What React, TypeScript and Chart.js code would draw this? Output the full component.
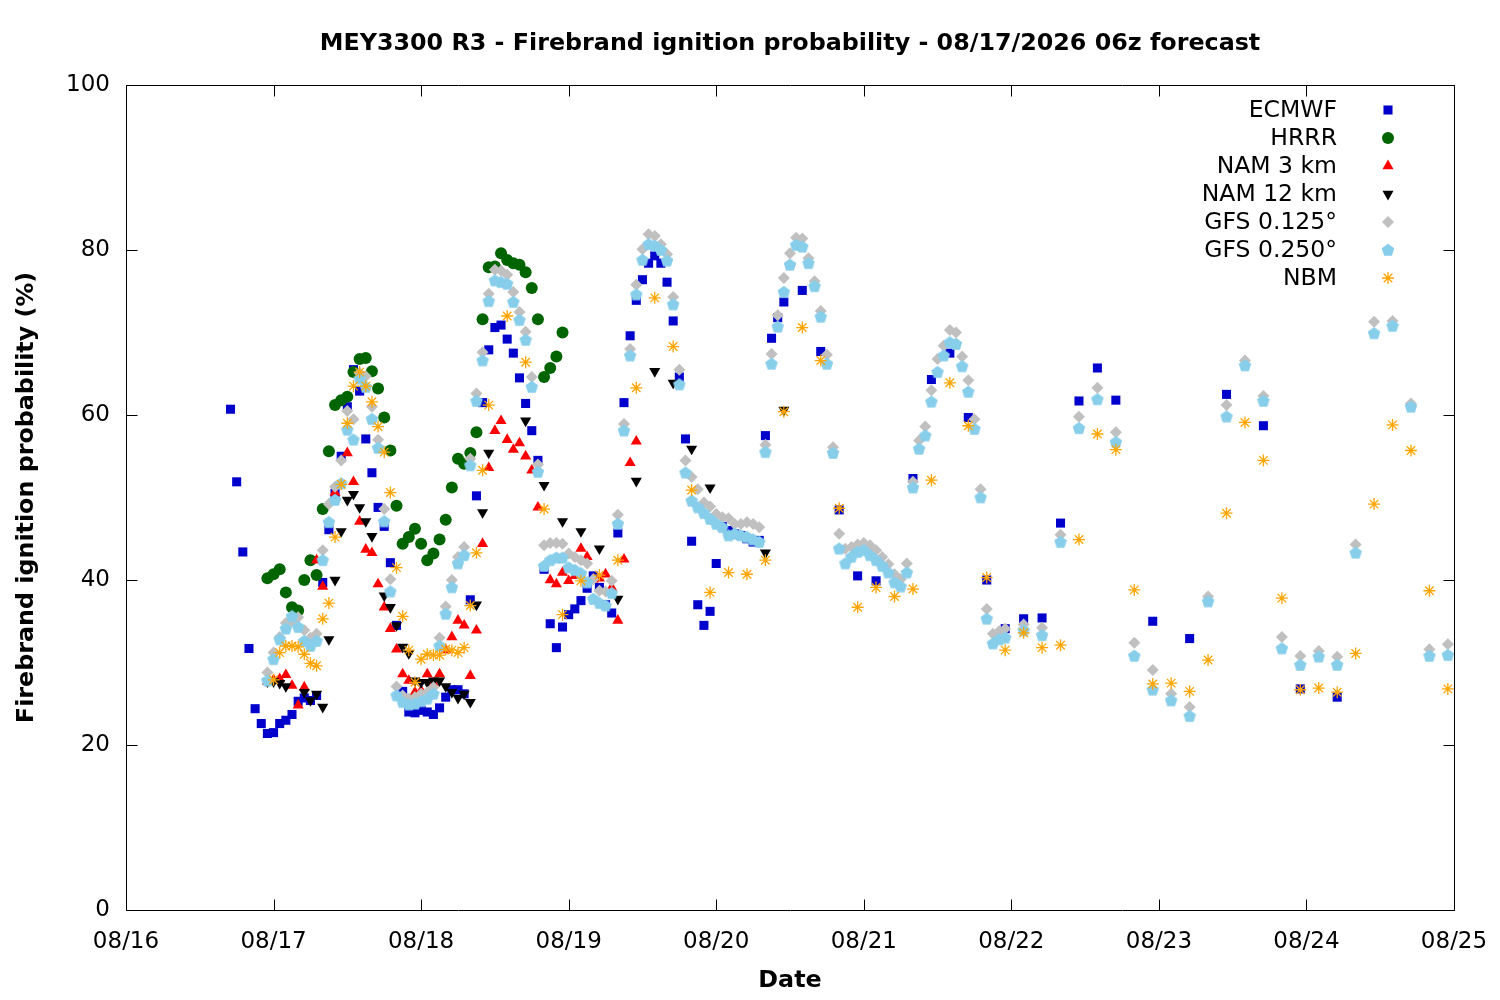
import React, { useEffect, useRef } from 'react';
import { Chart, registerables } from 'chart.js';

Chart.register(...registerables);

const titleText = 'MEY3300 R3 - Firebrand ignition probability - 08/17/2026 06z forecast';
const xTitle = 'Date';
const yTitle = 'Firebrand ignition probability (%)';
const dayLabels = ['08/16', '08/17', '08/18', '08/19', '08/20', '08/21', '08/22', '08/23', '08/24', '08/25'];
const seriesNames = ['ECMWF', 'HRRR', 'NAM 3 km', 'NAM 12 km', 'GFS 0.125°', 'GFS 0.250°', 'NBM'];

// hours since 08/16 00
const ecmwfHours = [17, 18, 19, 20, 21, 22, 23, 24, 25, 26, 27, 28, 29, 30, 31, 32, 33, 34, 35, 36, 37, 38, 39, 40, 41, 42, 43, 44, 45, 46, 47, 48, 49, 50, 51, 52, 53, 54, 55, 56, 57, 58, 59, 60, 61, 62, 63, 64, 65, 66, 67, 68, 69, 70, 71, 72, 73, 74, 75, 76, 77, 78, 79, 80, 81, 82, 83, 84, 85, 86, 87, 88, 89, 90, 91, 92, 93, 94, 95, 96, 97, 98, 99, 100, 101, 102, 103, 104, 105, 106, 107,
  110, 113, 116, 119, 122, 128, 131, 134, 137, 140, 143, 146, 149, 152, 155, 158, 161, 167, 173, 179, 185, 191, 197];
const ecmwfValues = [60.7, 51.9, 43.4, 31.7, 24.4, 22.6, 21.4, 21.5, 22.6, 23.0,
  23.7, 25.3, 25.7, 25.4, 26.0, 39.7, 46.1, 50.5, 55.0, 61.0,
  65.5, 62.9, 57.1, 53.0, 48.8, 46.5, 42.1, 34.5, 26.5, 24.0,
  23.9, 24.2, 24.0, 23.7, 24.5, 25.8, 26.7, 26.7, 26.2, 37.6,
  50.2, 61.5, 67.9, 70.6, 70.9, 69.2, 67.5, 64.5, 61.4, 58.1,
  54.5, 41.3, 34.7, 31.8, 34.3, 35.8, 36.5, 37.5, 39.0, 40.5,
  39.1, 37.0, 36.0, 45.7, 61.5, 69.6, 73.9, 76.4, 78.4, 79.3,
  78.4, 76.1, 71.4, 64.6, 57.1, 44.7, 37.0, 34.5, 36.2, 42.0,
  46.5, 46.0, 45.6, 45.4, 45.0, 44.6, 44.8, 57.5, 69.3, 71.8,
  73.7,
  75.1, 67.7, 48.5, 40.5, 39.9, 52.3, 64.3, 67.5, 59.7, 40.0, 34.1, 35.3, 35.4, 46.9, 61.7, 65.7, 61.8, 35.0, 32.9, 62.5, 58.7, 26.8, 25.8];

const hrrrHours = [23, 24, 25, 26, 27, 28, 29, 30, 31, 32, 33, 34, 35, 36, 37, 38, 39, 40, 41, 42, 43, 44, 45, 46, 47, 48, 49, 50, 51, 52, 53, 54, 55, 56, 57, 58, 59, 60, 61, 62, 63, 64, 65, 66, 67, 68, 69, 70, 71];
const hrrrValues = [40.2, 40.7, 41.3, 38.5, 36.7, 36.3, 40.0, 42.4, 40.6, 48.6,
  55.6, 61.2, 61.8, 62.2, 65.2, 66.8, 66.9, 65.3, 63.2, 59.7,
  55.7, 49.0, 44.4, 45.2, 46.2, 44.4, 42.4, 43.2, 44.9, 47.3,
  51.2, 54.7, 54.1, 55.4, 57.9, 71.6, 77.9, 78.0, 79.6, 78.8,
  78.4, 78.2, 77.3, 75.4, 71.6, 64.6, 65.7, 67.1, 70.0];

const nam3Hours = [23, 24, 25, 26, 27, 28, 29, 31, 32, 34, 36, 37, 38, 39, 40, 41, 42, 43, 44, 45, 46, 47, 48, 49, 50, 51, 52, 53, 54, 55, 56, 57, 58, 59, 60, 61, 62, 63, 64, 65, 66, 67, 69, 70, 71, 72, 73, 74, 75, 76, 77, 78, 79, 80, 81, 82, 83];
const nam3Values = [27.7, 27.9, 28.0, 28.5, 27.2, 24.8, 27.0, 42.4, 39.2, 50.6,
  55.4, 51.9, 47.1, 43.7, 43.3, 39.5, 36.7, 34.1, 31.6, 28.6, 27.8, 26.4, 26.6, 28.6, 27.5, 28.6,
  31.5, 33.1, 35.1, 34.5, 28.4, 33.9, 44.4, 53.6, 58.1, 59.3, 57.0, 55.8, 56.6, 55.0, 53.3, 48.8,
  40.0, 39.5, 40.9, 39.9, 40.5, 43.8, 42.8, 40.1, 40.2, 40.7, 39.1, 35.1, 42.5, 54.2, 56.8];

const nam12Hours = [23, 24, 25, 26, 29, 30, 31, 32, 33, 34, 35, 36, 37, 38, 39, 40, 42, 43, 44, 45, 46, 47, 48, 49, 50, 51, 52, 53, 54, 55, 56, 57, 58, 59, 65, 68, 71, 74, 77, 80, 83, 86, 89, 92, 95, 104, 107];
const nam12Values = [27.7, 27.7, 27.5, 27.1, 26.4, 25.4, 26.2, 24.6, 32.8, 40.0, 45.9, 49.7, 50.4, 48.8, 47.1, 45.3,
  38.1, 36.7, 34.5, 31.9, 31.1, 27.8, 27.6, 27.6, 27.8, 27.8, 27.1, 26.4, 25.7, 26.2, 25.2, 37.0, 48.2, 55.4,
  59.3, 51.5, 47.1, 45.9, 43.8, 37.7, 52.0, 65.3, 63.9, 55.9, 51.2, 43.3, 60.6];

const gfsHours = [23, 24, 25, 26, 27, 28, 29, 30, 31, 32, 33, 34, 35, 36, 37, 38, 39, 40, 41, 42, 43, 44, 45, 46, 47, 48, 49, 50, 51, 52, 53, 54, 55, 56, 57, 58, 59, 60, 61, 62, 63, 64, 65, 66, 67, 68, 69, 70, 71, 72, 73, 74, 75, 76, 77, 78, 79, 80, 81, 82, 83, 84, 85, 86, 87, 88, 89, 90, 91, 92, 93, 94, 95, 96, 97, 98, 99, 100, 101, 102, 103, 104, 105, 106, 107, 108, 109, 110, 111, 112, 113, 114, 115, 116, 117, 118, 119, 120, 121, 122, 123, 124, 125, 126, 127, 128, 129, 130, 131, 132, 133, 134, 135, 136, 137, 138, 139, 140, 141, 142, 143,
  146, 149, 152, 155, 158, 161, 164, 167, 170, 173, 176, 179, 182, 185, 188, 191, 194, 197, 200, 203, 206, 209, 212, 215];
const gfs0125Values = [28.8, 31.2, 33.1, 34.8, 35.0, 35.5, 33.9, 33.0, 33.5, 43.6,
  49.2, 51.3, 54.5, 60.5, 59.5, 65.1, 64.7, 61.0, 57.0, 48.6,
  40.1, 27.1, 26.0, 25.6, 25.8, 26.2, 26.4, 27.0, 33.0, 36.8,
  40.0, 42.8, 44.0, 54.7, 62.6, 67.6, 74.7, 77.6, 77.5, 77.0,
  74.9, 72.5, 70.1, 64.6, 54.0, 44.2, 44.5, 44.5, 44.4, 43.2,
  42.8, 42.4, 42.0, 40.1, 38.7, 38.6, 39.9, 47.9, 58.9, 68.0,
  75.8, 80.1, 81.9, 81.7, 80.7, 79.5, 74.3, 65.5, 54.5, 52.5,
  51.0, 49.4, 48.9, 48.0, 47.6, 47.5, 46.8, 46.8, 47.0, 46.8,
  46.4, 56.4, 67.4, 72.1, 76.6, 79.6, 81.5, 81.4, 79.0, 76.2,
  72.6, 67.3, 56.1, 45.6, 43.8, 44.0, 44.3, 44.5, 44.2, 43.6,
  42.8, 41.9, 40.7, 40.1, 42.0, 51.9, 56.9, 58.6, 63.0, 66.8,
  68.4, 70.3, 70.0, 67.1, 64.2, 59.5, 51.0, 36.5, 33.5, 33.8,
  34.1,
  34.6, 34.2, 45.5, 59.8, 63.3, 57.9, 32.4, 29.1, 26.2, 24.6, 38.0, 61.2, 66.6, 62.3, 33.1, 30.8, 31.4, 30.7, 44.3, 71.3, 71.4, 61.4, 31.6, 32.2];
const gfs0250Values = [27.8, 30.4, 32.8, 34.1, 35.6, 34.3, 32.6, 32.0, 32.6, 42.4,
  47.0, 49.7, 51.7, 58.2, 57.0, 64.4, 63.4, 59.5, 56.0, 47.1,
  38.6, 26.0, 25.2, 24.9, 25.0, 25.3, 25.6, 26.2, 32.0, 35.9,
  39.1, 42.0, 43.0, 53.9, 61.7, 66.6, 73.8, 76.3, 76.1, 75.9,
  73.7, 71.5, 69.1, 63.4, 53.1, 41.7, 42.4, 42.7, 42.7, 41.5,
  41.2, 40.8, 39.7, 37.7, 37.2, 36.9, 38.4, 46.8, 58.1, 67.2,
  74.6, 78.8, 80.7, 80.5, 80.0, 78.7, 73.4, 63.7, 53.0, 49.6,
  48.8, 48.1, 47.4, 46.8, 46.4, 45.4, 45.6, 45.4, 45.2, 44.9,
  44.6, 55.5, 66.2, 70.7, 74.9, 78.2, 80.6, 80.4, 78.4, 75.6,
  71.9, 66.2, 55.4, 43.8, 42.0, 42.8, 43.4, 43.6, 43.0, 42.4,
  41.7, 40.9, 39.7, 39.2, 40.9, 51.2, 55.9, 57.5, 61.6, 65.2,
  67.2, 68.8, 68.6, 65.9, 62.8, 58.3, 50.0, 35.3, 32.3, 32.8,
  33.0,
  33.9, 33.3, 44.6, 58.4, 61.9, 56.7, 30.8, 26.7, 25.4, 23.5, 37.4, 59.8, 66.0, 61.7, 31.7, 29.7, 30.7, 29.7, 43.3, 69.9, 70.8, 61.0, 30.8, 30.9];

const nbmHours = [24, 25, 26, 27, 28, 29, 30, 31, 32, 33, 34, 35, 36, 37, 38, 39, 40, 41, 42, 43, 44, 45, 46, 47, 48, 49, 50, 51, 52, 53, 54, 55, 56, 57, 58, 59,
  62, 65, 68, 71, 74, 77, 80, 83, 86, 89, 92, 95, 98, 101, 104, 107, 110, 113, 116, 119, 122, 125, 128, 131, 134, 137, 140, 143, 146, 149, 152, 155, 158, 161, 164, 167, 170, 173, 176, 179, 182, 185, 188, 191, 194, 197, 200, 203, 206, 209, 212, 215];
const nbmValues = [27.9, 31.2, 32.0, 32.0, 31.9, 31.0, 29.9, 29.6, 35.3, 37.2,
  45.2, 51.6, 59.0, 63.5, 65.2, 63.5, 61.6, 58.6, 55.5, 50.6,
  41.5, 35.6, 31.5, 27.6, 30.4, 31.0, 30.9, 30.9, 31.6, 31.5,
  31.2, 31.8, 36.9, 43.3, 53.3, 61.2,
  72.0, 66.4, 48.6, 35.8, 39.9, 40.6, 42.4, 63.3, 74.2, 68.3, 50.9, 38.5, 40.9, 40.7, 42.4, 60.4, 70.6, 66.6,
  48.7, 36.7, 39.1, 38.0, 38.9, 52.1, 63.9, 58.7, 40.3, 31.5, 33.6, 31.8, 32.1, 44.9, 57.7, 55.8,
  38.8, 27.4, 27.5, 26.5, 30.3, 48.1, 59.1, 54.5, 37.8, 26.7, 26.9, 26.4, 31.1, 49.2, 58.8, 55.7, 38.7, 26.8];

const FONT = 'DejaVu Sans';

function toPoints(hours: number[], values: number[]) {
  return hours.map((h, i) => ({ x: h, y: values[i] }));
}

function makePentagon(color: string) {
  const c = document.createElement('canvas');
  c.width = 14;
  c.height = 14;
  const g = c.getContext('2d')!;
  g.fillStyle = color;
  g.beginPath();
  for (let k = 0; k < 5; k++) {
    const a = (-90 + 72 * k) * Math.PI / 180;
    const px = 7 + Math.cos(a) * 6.6;
    const py = 7.4 + Math.sin(a) * 6.6;
    if (k === 0) g.moveTo(px, py); else g.lineTo(px, py);
  }
  g.closePath();
  g.fill();
  return c;
}

function drawMarker(ctx: CanvasRenderingContext2D, kind: string, x: number, y: number, color: string, img: HTMLCanvasElement) {
  ctx.save();
  ctx.fillStyle = color;
  ctx.strokeStyle = color;
  ctx.beginPath();
  if (kind === 'rect') {
    const s = Math.SQRT1_2 * 6.4;
    ctx.rect(x - s, y - s, 2 * s, 2 * s);
    ctx.fill();
  } else if (kind === 'circle') {
    ctx.arc(x, y, 6, 0, Math.PI * 2);
    ctx.fill();
  } else if (kind === 'tri' || kind === 'invtri') {
    const base = kind === 'tri' ? 0 : Math.PI;
    for (let k = 0; k < 3; k++) {
      const a = base + k * 2 * Math.PI / 3;
      const px = x + Math.sin(a) * 6.4;
      const py = y - Math.cos(a) * 6.4;
      if (k === 0) ctx.moveTo(px, py); else ctx.lineTo(px, py);
    }
    ctx.closePath();
    ctx.fill();
  } else if (kind === 'diamond') {
    ctx.moveTo(x - 6, y);
    ctx.lineTo(x, y - 6);
    ctx.lineTo(x + 6, y);
    ctx.lineTo(x, y + 6);
    ctx.closePath();
    ctx.fill();
  } else if (kind === 'pent') {
    ctx.drawImage(img, x - img.width / 2, y - img.height / 2);
  } else if (kind === 'star') {
    const r = 6;
    const d = Math.SQRT1_2 * r;
    ctx.lineWidth = 1.3;
    ctx.moveTo(x, y - r); ctx.lineTo(x, y + r);
    ctx.moveTo(x - r, y); ctx.lineTo(x + r, y);
    ctx.moveTo(x - d, y - d); ctx.lineTo(x + d, y + d);
    ctx.moveTo(x - d, y + d); ctx.lineTo(x + d, y - d);
    ctx.stroke();
  }
  ctx.restore();
}

export default function App() {
  const ref = useRef<HTMLCanvasElement>(null);

  useEffect(() => {
    const canvas = ref.current;
    if (!canvas) return;
    const pent = makePentagon('#87ceeb');
    const colors = ['#0000cd', '#006400', '#ff0000', '#000000', '#c0c0c0', '#87ceeb', '#ffa500'];
    const kinds = ['rect', 'circle', 'tri', 'invtri', 'diamond', 'pent', 'star'];
    const pointStyles: any[] = ['rect', 'circle', 'triangle', 'triangle', 'rectRot', pent, 'star'];
    const radii = [6.4, 6, 6.4, 6.4, 6, 7, 6];
    const rotations = [0, 0, 0, 180, 0, 0, 0];
    const seriesData = [
      toPoints(ecmwfHours, ecmwfValues),
      toPoints(hrrrHours, hrrrValues),
      toPoints(nam3Hours, nam3Values),
      toPoints(nam12Hours, nam12Values),
      toPoints(gfsHours, gfs0125Values),
      toPoints(gfsHours, gfs0250Values),
      toPoints(nbmHours, nbmValues),
    ];

    const datasets = seriesNames.map((name, i) => ({
      label: name,
      data: seriesData[i],
      showLine: false,
      pointStyle: pointStyles[i],
      pointRadius: radii[i],
      pointHoverRadius: radii[i],
      pointRotation: rotations[i],
      pointBackgroundColor: colors[i],
      pointBorderColor: colors[i],
      pointBorderWidth: i === 6 ? 1.3 : 0,
      order: 7 - i,
    }));

    const decorPlugin = {
      id: 'decor',
      afterDraw(chart: any) {
        const ctx: CanvasRenderingContext2D = chart.ctx;
        const a = chart.chartArea;
        const xs = chart.scales.x;
        const ys = chart.scales.y;
        ctx.save();
        ctx.strokeStyle = '#000';
        ctx.lineWidth = 1;
        const L = Math.round(a.left) + 0.5;
        const R = Math.round(a.right) + 0.5;
        const T = Math.round(a.top) + 0.5;
        const B = Math.round(a.bottom) + 0.5;
        ctx.beginPath();
        ctx.rect(L, T, R - L, B - T);
        const tl = 11;
        xs.ticks.forEach((t: any) => {
          const px = Math.round(xs.getPixelForValue(t.value)) + 0.5;
          ctx.moveTo(px, B); ctx.lineTo(px, B - tl);
          ctx.moveTo(px, T); ctx.lineTo(px, T + tl);
        });
        ys.ticks.forEach((t: any) => {
          const py = Math.round(ys.getPixelForValue(t.value)) + 0.5;
          ctx.moveTo(L, py); ctx.lineTo(L + tl, py);
          ctx.moveTo(R, py); ctx.lineTo(R - tl, py);
        });
        ctx.stroke();

        ctx.fillStyle = '#000';
        ctx.textAlign = 'center';
        ctx.textBaseline = 'middle';
        ctx.font = `bold 23.8px "${FONT}"`;
        ctx.fillText(titleText, (a.left + a.right) / 2, 44);
        ctx.fillText(xTitle, (a.left + a.right) / 2, 981);
        ctx.save();
        ctx.translate(27, (a.top + a.bottom) / 2);
        ctx.rotate(-Math.PI / 2);
        ctx.fillText(yTitle, 0, 0);
        ctx.restore();

        ctx.font = `23.5px "${FONT}"`;
        ctx.textAlign = 'right';
        chart.data.datasets.forEach((ds: any, i: number) => {
          const y = 110 + 28 * i;
          ctx.fillStyle = '#000';
          ctx.fillText(ds.label, 1337, y + 1);
          drawMarker(ctx, kinds[i], 1388, y, colors[i], pent);
        });
        ctx.restore();
      },
    };

    const chart = new Chart(canvas, {
      type: 'scatter',
      data: { datasets },
      options: {
        responsive: false,
        animation: false,
        devicePixelRatio: 1,
        events: [],
        layout: { padding: { left: 0, right: 46, top: 85, bottom: 0 } },
        plugins: {
          legend: { display: false },
          tooltip: { enabled: false },
          title: { display: false },
        },
        scales: {
          x: {
            type: 'linear',
            min: 0,
            max: 216,
            grid: { display: false, drawTicks: false },
            border: { display: false },
            ticks: {
              stepSize: 24,
              autoSkip: false,
              maxRotation: 0,
              padding: 18,
              color: '#000',
              font: { family: FONT, size: 23 },
              callback: (v: any) => dayLabels[Math.round(Number(v) / 24)] ?? '',
            },
            afterFit: (s: any) => { s.height = 90; s.paddingLeft = 0; s.paddingRight = 0; },
          },
          y: {
            type: 'linear',
            min: 0,
            max: 100,
            grid: { display: false, drawTicks: false },
            border: { display: false },
            ticks: {
              stepSize: 20,
              padding: 16,
              color: '#000',
              font: { family: FONT, size: 23 },
            },
            afterFit: (s: any) => { s.width = 126; s.paddingTop = 0; s.paddingBottom = 0; },
          },
        },
      },
      plugins: [decorPlugin],
    });

    return () => chart.destroy();
  }, []);

  return (
    <div style={{ position: 'fixed', left: 0, top: 0, width: 1500, height: 1000, background: '#fff' }}>
      <canvas ref={ref} width={1500} height={1000} style={{ display: 'block' }} />
    </div>
  );
}
